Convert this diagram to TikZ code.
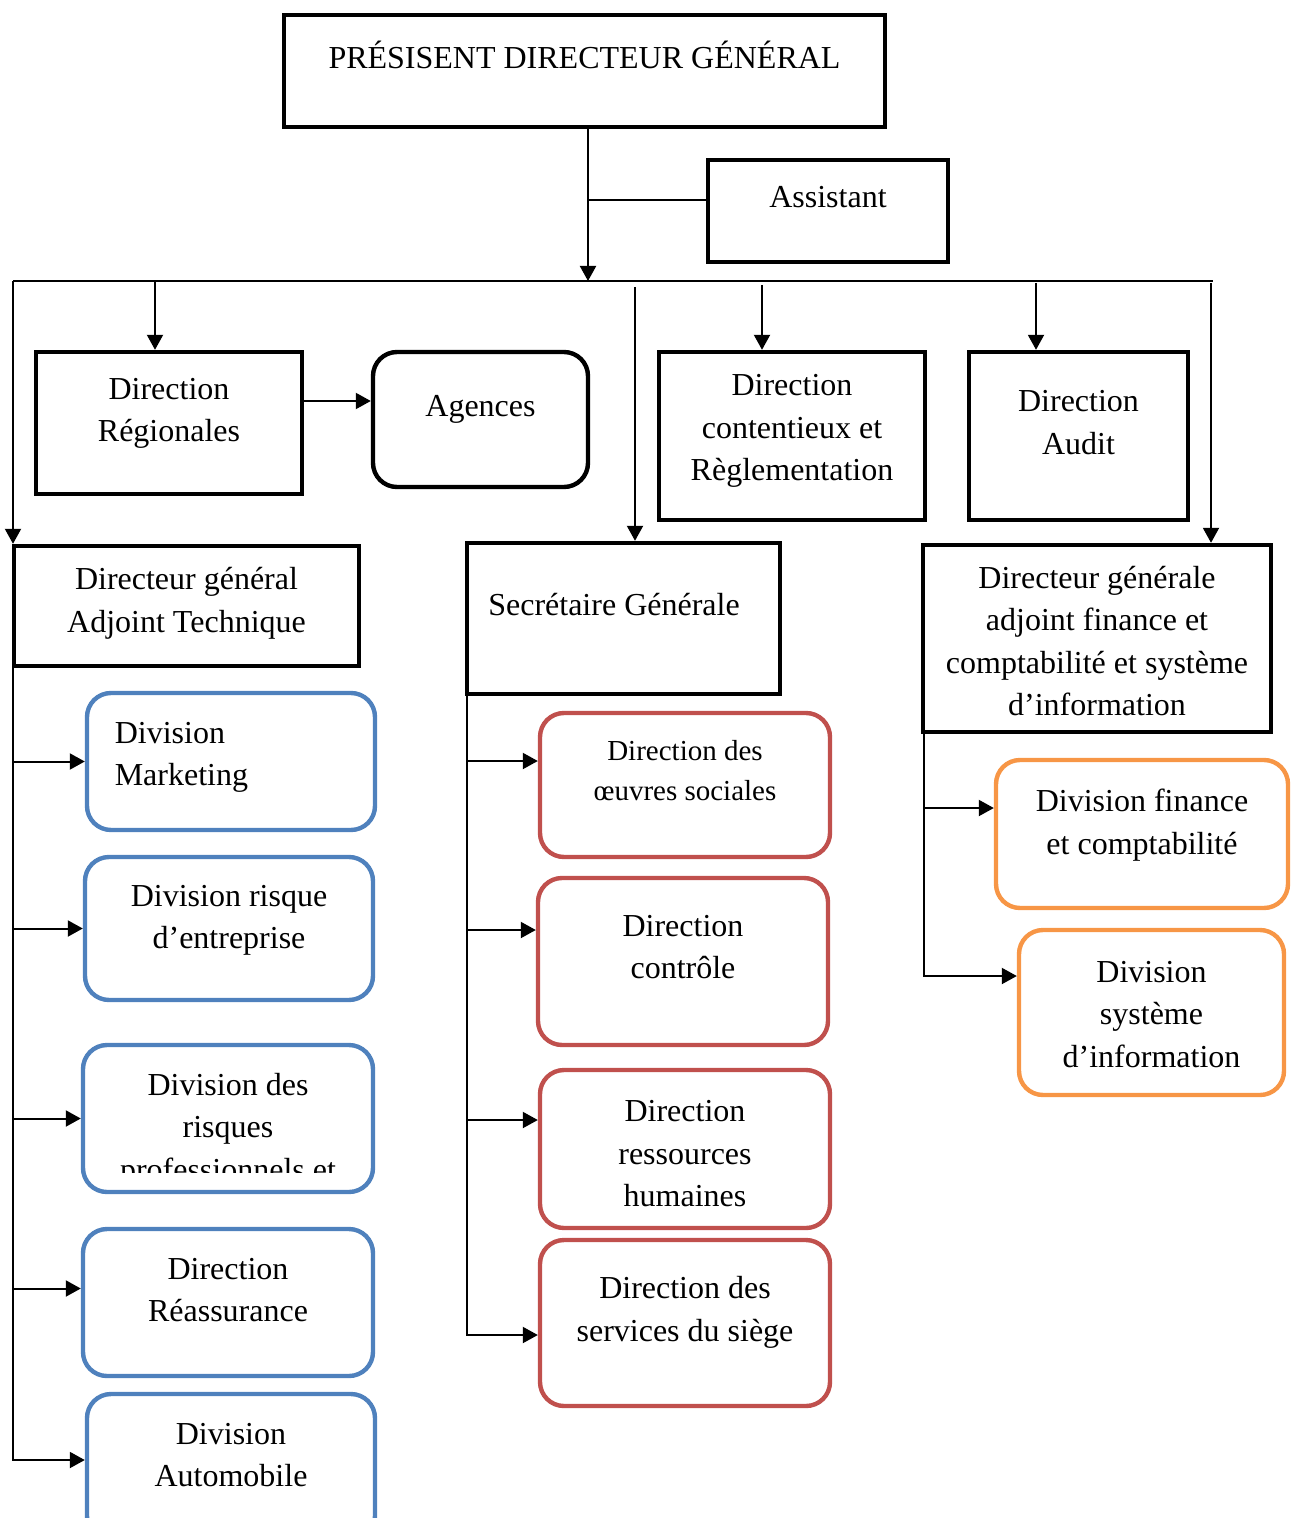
\documentclass[tikz,border=0pt]{standalone}
\usepackage{fontspec}
\setmainfont{Liberation Serif}
\usetikzlibrary{arrows.meta}
\definecolor{divblue}{RGB}{79,129,189}
\definecolor{divred}{RGB}{192,80,77}
\definecolor{divorange}{RGB}{247,150,70}
\tikzset{
 txt/.style={inner sep=0pt, align=center, font=\fontsize{16}{21.25}\selectfont},
 smalltxt/.style={txt, font=\fontsize{14.5}{20}\selectfont},
 box/.style={draw, line width=2.2pt, inner sep=0pt},
 rbox/.style={box, rounded corners=12pt},
 bluebox/.style={rbox, draw=divblue},
 redbox/.style={rbox, draw=divred},
 orangebox/.style={rbox, draw=divorange}
}
\begin{document}
\begin{tikzpicture}[x=0.5pt,y=-0.5pt,line width=1pt,>={Triangle[length=7.5pt,width=8pt]}]
 \useasboundingbox (0,0) rectangle (1290,1518);

 \node[box, minimum width=300.5pt, minimum height=56pt, label={[txt, yshift=8pt]center:PRÉSISENT DIRECTEUR GÉNÉRAL}] (pdg) at (584.5,71) {};
 \node[box, minimum width=120pt, minimum height=51pt, label={[txt, yshift=7pt]center:Assistant}] (assistant) at (828,211) {};

 \node[box, minimum width=133pt, minimum height=71pt, label={[txt, yshift=4.75pt]center:{Direction\\Régionales}}] (dirreg) at (169,423) {};
 \node[rbox, minimum width=107.5pt, minimum height=67.5pt, label={[txt, yshift=5.25pt]center:Agences}] (agences) at (480.5,419.5) {};
 \node[box, minimum width=133pt, minimum height=84pt, label={[txt, yshift=2.5pt]center:{Direction\\contentieux et\\Règlementation}}] (dircont) at (792,436) {};
 \node[box, minimum width=109.5pt, minimum height=84pt, label={[txt, yshift=6.75pt]center:{Direction\\Audit}}] (diraudit) at (1078.5,436) {};

 \node[box, minimum width=172.5pt, minimum height=60pt, label={[txt, yshift=1.25pt]center:{Directeur général\\Adjoint Technique}}] (dgatech) at (186.5,606) {};
 \node[box, minimum width=156.5pt, minimum height=75.5pt, label={[txt, xshift=-4.75pt, yshift=6.75pt]center:Secrétaire Générale}] (sg) at (623.5,618.5) {};
 \node[box, minimum width=174pt, minimum height=93.5pt, label={[txt, yshift=-1.25pt]center:{Directeur générale\\adjoint finance et\\comptabilité et système\\d’information}}] (dgfin) at (1097,638.5) {};

 \node[bluebox, minimum width=144pt, minimum height=68.5pt, label={[txt, align=left, anchor=west, xshift=14.5pt, yshift=2pt]west:{Division\\Marketing}}] (marketing) at (231,761.5) {};
 \node[bluebox, minimum width=144pt, minimum height=71.5pt, label={[txt, yshift=4pt]center:{Division risque\\d’entreprise}}] (risque) at (229,928.5) {};
 \node[bluebox, minimum width=145pt, minimum height=73.5pt] (risques) at (228,1118.5) {};
 \begin{scope}
  \clip (80,1040) rectangle (380,1172);
  \node[txt] (risquesT) at (228,1130) {Division des\\risques\\professionnels et};
 \end{scope}
 \node[bluebox, minimum width=145pt, minimum height=73.5pt, label={[txt, yshift=6.25pt]center:{Direction\\Réassurance}}] (reassurance) at (228,1302.5) {};
 \node[bluebox, minimum width=144pt, minimum height=73pt, label={[txt, yshift=6pt]center:{Division\\Automobile}}] (automobile) at (231,1467) {};

 \node[redbox, minimum width=145pt, minimum height=72pt, label={[smalltxt, yshift=7pt]center:{Direction des\\œuvres sociales}}] (oeuvres) at (685,785) {};
 \node[redbox, minimum width=145pt, minimum height=83.5pt, label={[txt, yshift=7.25pt]center:{Direction\\contrôle}}] (controle) at (683,961.5) {};
 \node[redbox, minimum width=145pt, minimum height=79pt, label={[txt, yshift=-2.5pt]center:{Direction\\ressources\\humaines}}] (rh) at (685,1149) {};
 \node[redbox, minimum width=145pt, minimum height=83pt, label={[txt, yshift=5.25pt]center:{Direction des\\services du siège}}] (siege) at (685,1323) {};

 \node[orangebox, minimum width=146pt, minimum height=74pt, label={[txt, yshift=4.5pt]center:{Division finance\\et comptabilité}}] (finance) at (1142,834) {};
 \node[orangebox, minimum width=132.5pt, minimum height=82.5pt, label={[txt, yshift=-1pt]center:{Division\\système\\d’information}}] (systeme) at (1151.5,1012.5) {};

 \coordinate (busL) at (13,281);
 \coordinate (busR) at (1213,281);
 \coordinate (pdgout) at ([xshift=1.75pt]pdg.south);
 \coordinate (asin) at ([yshift=5.5pt]assistant.west);
 \coordinate (regin) at ([xshift=-7pt]dirreg.north);
 \coordinate (sgin) at ([xshift=5.75pt]sg.north);
 \coordinate (contin) at ([xshift=-15pt]dircont.north);
 \coordinate (auditin) at ([xshift=-21.25pt]diraudit.north);
 \coordinate (finin) at ([xshift=57pt]dgfin.north);
 \coordinate (regout) at ([yshift=11pt]dirreg.east);

 \draw (busL) -- (busR);
 \draw[->] (pdgout) -- (pdgout |- busL);
 \draw (asin) -- (asin -| pdgout);
 \draw[->] (busL) -- (busL |- dgatech.north);
 \draw[->] (regin |- busL) -- (regin);
 \draw[->, shorten <=3pt] (sgin |- busL) -- (sgin);
 \draw[->, shorten <=2pt] (contin |- busL) -- (contin);
 \draw[->, shorten <=1pt] (auditin |- busL) -- (auditin);
 \draw[->, shorten <=1pt] (finin |- busL) -- (finin);
 \draw[->] (regout) -- (regout -| agences.west);

 \coordinate (reain) at ([yshift=7pt]reassurance.west);
 \coordinate (autoin) at ([yshift=3.5pt]automobile.west);
 \draw[->] (busL |- dgatech.south) |- (autoin);
 \draw[->] (busL |- marketing.west) -- (marketing.west);
 \draw[->] (busL |- risque.west) -- (risque.west);
 \draw[->] (busL |- risques.west) -- (risques.west);
 \draw[->] (busL |- reain) -- (reain);

 \coordinate (sgspine) at ([xshift=1pt]sg.south west);
 \coordinate (oeuvin) at ([yshift=12pt]oeuvres.west);
 \coordinate (ctrlin) at ([yshift=15.75pt]controle.west);
 \coordinate (rhin) at ([yshift=14.5pt]rh.west);
 \coordinate (siegein) at ([yshift=-6pt]siege.west);
 \draw[->] (sgspine) |- (siegein);
 \draw[->] (sgspine |- oeuvin) -- (oeuvin);
 \draw[->] (sgspine |- ctrlin) -- (ctrlin);
 \draw[->] (sgspine |- rhin) -- (rhin);

 \coordinate (finspine) at ([xshift=1.5pt]dgfin.south west);
 \coordinate (financein) at ([yshift=13pt]finance.west);
 \coordinate (sysin) at ([yshift=18.25pt]systeme.west);
 \draw[->] (finspine) |- (sysin);
 \draw[->] (finspine |- financein) -- (financein);
\end{tikzpicture}
\end{document}
